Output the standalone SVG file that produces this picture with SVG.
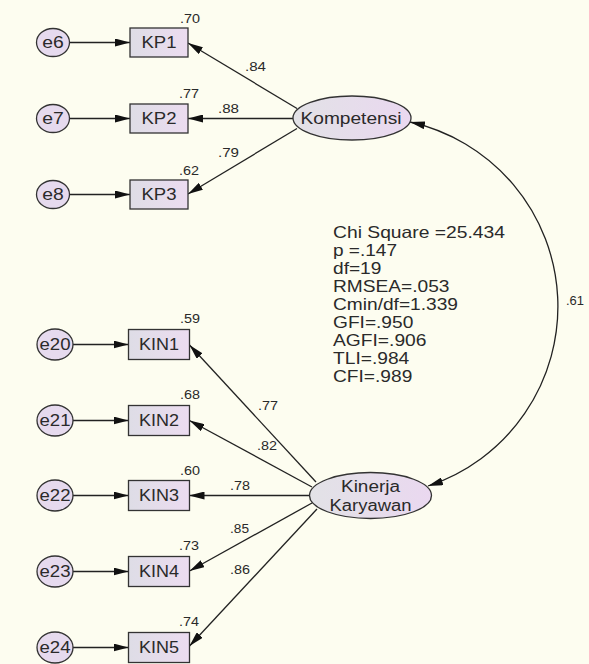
<svg xmlns="http://www.w3.org/2000/svg" width="589" height="664" viewBox="0 0 589 664">
<style>
.t{font-family:"Liberation Sans",Arial,sans-serif;fill:#2a2a2a}
.n{font-size:16px;text-anchor:middle}
.l{font-size:12.5px}
.s{font-size:16.5px}
.box{fill:url(#gb);stroke:#333;stroke-width:1.3}
.lat{fill:url(#ge);stroke:#333;stroke-width:1.3}
.err{fill:#e6daee;stroke:#333;stroke-width:1.3}
.c{stroke:#222;stroke-width:1.3;fill:none;marker-end:url(#ah)}
</style>
<defs>
<linearGradient id="gb" x1="0" y1="0" x2="1" y2="0"><stop offset="0" stop-color="#dedde6"/><stop offset="1" stop-color="#ecdcf0"/></linearGradient>
<linearGradient id="ge" x1="0" y1="0" x2="1" y2="0"><stop offset="0" stop-color="#e2e2e6"/><stop offset="1" stop-color="#ead8f0"/></linearGradient>
<marker id="ah" viewBox="0 0 15 8" refX="15" refY="4" markerWidth="15" markerHeight="8" markerUnits="userSpaceOnUse" orient="auto-start-reverse"><path d="M0,0 L15,4 L0,8 z" fill="#111"/></marker>
</defs>
<rect width="589" height="664" fill="#fdfdf0"/>
<g id="connectors">
<line class="c" x1="69.5" y1="42.5" x2="130" y2="42.5"/>
<line class="c" x1="69.5" y1="118.5" x2="130" y2="118.5"/>
<line class="c" x1="69.5" y1="194.5" x2="130" y2="194.5"/>
<line class="c" x1="73" y1="344.5" x2="128.5" y2="344.5"/>
<line class="c" x1="73" y1="420.5" x2="128.5" y2="420.5"/>
<line class="c" x1="73" y1="495.5" x2="128.5" y2="495.5"/>
<line class="c" x1="73" y1="571.5" x2="128.5" y2="571.5"/>
<line class="c" x1="73" y1="647.5" x2="128.5" y2="647.5"/>
<line class="c" x1="297" y1="108.5" x2="188" y2="43"/>
<line class="c" x1="293" y1="118.5" x2="188" y2="118.5"/>
<line class="c" x1="297" y1="128.5" x2="188" y2="194"/>
<line class="c" x1="316" y1="482" x2="189.5" y2="345"/>
<line class="c" x1="312" y1="487" x2="189.5" y2="420.5"/>
<line class="c" x1="309.5" y1="495.5" x2="189.5" y2="495.5"/>
<line class="c" x1="312" y1="503" x2="189.5" y2="571"/>
<line class="c" x1="317" y1="509" x2="189.5" y2="646"/>
<path class="c" style="marker-start:url(#ah)" d="M410,122 A189,189 0 0 1 428,486"/>
</g>
<g id="e6"><ellipse class="err" cx="53" cy="42.5" rx="16.5" ry="14"/><text class="t n" x="53" y="48.2" textLength="21.5" lengthAdjust="spacingAndGlyphs">e6</text></g>
<g id="e7"><ellipse class="err" cx="53" cy="118.5" rx="16.5" ry="14"/><text class="t n" x="53" y="124.2" textLength="21.5" lengthAdjust="spacingAndGlyphs">e7</text></g>
<g id="e8"><ellipse class="err" cx="53" cy="194.5" rx="16.5" ry="14"/><text class="t n" x="53" y="200.2" textLength="21.5" lengthAdjust="spacingAndGlyphs">e8</text></g>
<g id="e20"><ellipse class="err" cx="55" cy="344.5" rx="18" ry="15.5"/><text class="t n" x="55" y="350.2" textLength="31" lengthAdjust="spacingAndGlyphs">e20</text></g>
<g id="e21"><ellipse class="err" cx="55" cy="420.5" rx="18" ry="15.5"/><text class="t n" x="55" y="426.2" textLength="31" lengthAdjust="spacingAndGlyphs">e21</text></g>
<g id="e22"><ellipse class="err" cx="55" cy="495.5" rx="18" ry="15.5"/><text class="t n" x="55" y="501.2" textLength="31" lengthAdjust="spacingAndGlyphs">e22</text></g>
<g id="e23"><ellipse class="err" cx="55" cy="571.5" rx="18" ry="15.5"/><text class="t n" x="55" y="577.2" textLength="31" lengthAdjust="spacingAndGlyphs">e23</text></g>
<g id="e24"><ellipse class="err" cx="55" cy="647.5" rx="18" ry="15.5"/><text class="t n" x="55" y="653.2" textLength="31" lengthAdjust="spacingAndGlyphs">e24</text></g>
<g id="KP1"><rect class="box" x="130" y="28" width="58" height="29"/><text class="t n" x="159" y="48.2" textLength="35" lengthAdjust="spacingAndGlyphs">KP1</text><text class="t l" x="180" y="22.5" textLength="20" lengthAdjust="spacingAndGlyphs">.70</text></g>
<g id="KP2"><rect class="box" x="130" y="104" width="58" height="29"/><text class="t n" x="159" y="124.2" textLength="35" lengthAdjust="spacingAndGlyphs">KP2</text><text class="t l" x="179" y="98.3" textLength="20" lengthAdjust="spacingAndGlyphs">.77</text></g>
<g id="KP3"><rect class="box" x="130" y="180" width="58" height="29"/><text class="t n" x="159" y="200.2" textLength="35" lengthAdjust="spacingAndGlyphs">KP3</text><text class="t l" x="179" y="174.5" textLength="20" lengthAdjust="spacingAndGlyphs">.62</text></g>
<g id="KIN1"><rect class="box" x="128.5" y="329.5" width="61" height="30"/><text class="t n" x="159" y="350.2" textLength="40" lengthAdjust="spacingAndGlyphs">KIN1</text><text class="t l" x="180" y="323" textLength="20" lengthAdjust="spacingAndGlyphs">.59</text></g>
<g id="KIN2"><rect class="box" x="128.5" y="405.5" width="61" height="30"/><text class="t n" x="159" y="426.2" textLength="40" lengthAdjust="spacingAndGlyphs">KIN2</text><text class="t l" x="180" y="399" textLength="20" lengthAdjust="spacingAndGlyphs">.68</text></g>
<g id="KIN3"><rect class="box" x="128.5" y="480.5" width="61" height="30"/><text class="t n" x="159" y="501.2" textLength="40" lengthAdjust="spacingAndGlyphs">KIN3</text><text class="t l" x="180" y="475" textLength="20" lengthAdjust="spacingAndGlyphs">.60</text></g>
<g id="KIN4"><rect class="box" x="128.5" y="556.5" width="61" height="30"/><text class="t n" x="159" y="577.2" textLength="40" lengthAdjust="spacingAndGlyphs">KIN4</text><text class="t l" x="179" y="550" textLength="20" lengthAdjust="spacingAndGlyphs">.73</text></g>
<g id="KIN5"><rect class="box" x="128.5" y="632.5" width="61" height="30"/><text class="t n" x="159" y="653.2" textLength="40" lengthAdjust="spacingAndGlyphs">KIN5</text><text class="t l" x="179" y="626" textLength="20" lengthAdjust="spacingAndGlyphs">.74</text></g>
<g id="Kompetensi"><ellipse class="lat" cx="352" cy="118" rx="59" ry="22"/><text class="t n" style="font-size:16.5px" x="351" y="124" textLength="101" lengthAdjust="spacingAndGlyphs">Kompetensi</text></g>
<g id="KinerjaKaryawan"><ellipse class="lat" cx="370.5" cy="495.5" rx="61" ry="23"/><text class="t n" x="370.5" y="491.5" textLength="59" lengthAdjust="spacingAndGlyphs">Kinerja</text><text class="t n" x="370.5" y="510.5" textLength="82" lengthAdjust="spacingAndGlyphs">Karyawan</text></g>
<g id="path-labels">
<text class="t l" x="245" y="71" textLength="21" lengthAdjust="spacingAndGlyphs">.84</text>
<text class="t l" x="218" y="113" textLength="21" lengthAdjust="spacingAndGlyphs">.88</text>
<text class="t l" x="218" y="157" textLength="21" lengthAdjust="spacingAndGlyphs">.79</text>
<text class="t l" x="258" y="410" textLength="20" lengthAdjust="spacingAndGlyphs">.77</text>
<text class="t l" x="257" y="450" textLength="20" lengthAdjust="spacingAndGlyphs">.82</text>
<text class="t l" x="230" y="490" textLength="20" lengthAdjust="spacingAndGlyphs">.78</text>
<text class="t l" x="230" y="533" textLength="19" lengthAdjust="spacingAndGlyphs">.85</text>
<text class="t l" x="230" y="574" textLength="20" lengthAdjust="spacingAndGlyphs">.86</text>
<text class="t l" x="566" y="305" textLength="18" lengthAdjust="spacingAndGlyphs">.61</text>
</g>
<g id="fit-statistics">
<text class="t s" x="333" y="238" textLength="172" lengthAdjust="spacingAndGlyphs">Chi Square =25.434</text>
<text class="t s" x="333" y="256" textLength="64" lengthAdjust="spacingAndGlyphs">p =.147</text>
<text class="t s" x="333" y="274" textLength="48.4" lengthAdjust="spacingAndGlyphs">df=19</text>
<text class="t s" x="333" y="292" textLength="116.5" lengthAdjust="spacingAndGlyphs">RMSEA=.053</text>
<text class="t s" x="333" y="310" textLength="125" lengthAdjust="spacingAndGlyphs">Cmin/df=1.339</text>
<text class="t s" x="333" y="328" textLength="80.3" lengthAdjust="spacingAndGlyphs">GFI=.950</text>
<text class="t s" x="333" y="346" textLength="93.5" lengthAdjust="spacingAndGlyphs">AGFI=.906</text>
<text class="t s" x="333" y="364" textLength="76.3" lengthAdjust="spacingAndGlyphs">TLI=.984</text>
<text class="t s" x="333" y="382" textLength="79.3" lengthAdjust="spacingAndGlyphs">CFI=.989</text>
</g>
</svg>
